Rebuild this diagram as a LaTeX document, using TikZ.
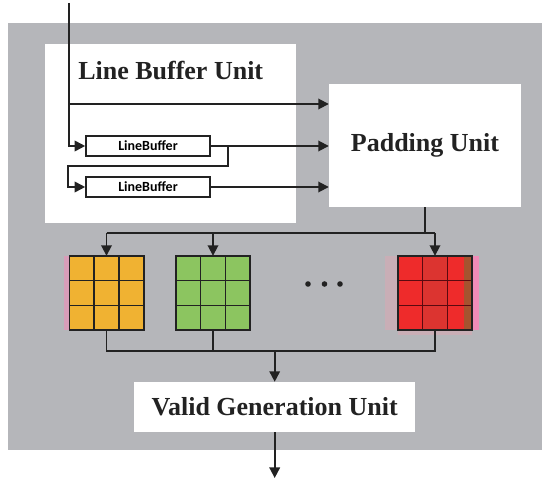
\documentclass[tikz,border=0pt]{standalone}
\usepackage{fontspec}
\setmainfont{Liberation Serif}
\newfontfamily\lbfont{Carlito}
\usetikzlibrary{arrows.meta,calc}
\definecolor{bggray}{HTML}{B5B6BA}
\definecolor{linec}{HTML}{222222}
\definecolor{orangec}{HTML}{F0B232}
\definecolor{greenc}{HTML}{8CC560}
\definecolor{redc}{HTML}{EE2B2B}
\definecolor{redmid}{HTML}{DC3430}
\definecolor{redbrown}{HTML}{A5532F}
\definecolor{pinkc}{HTML}{F08CB8}
\definecolor{pinkfaint}{HTML}{C9AEB6}
\definecolor{redgrid}{HTML}{5A0A10}
\tikzset{
  conn/.style={line width=1.8pt, draw=linec},
  arr/.style={conn, -{Triangle[length=10.5pt,width=10.5pt]}},
  whitebox/.style={fill=white, draw=none, inner sep=0pt},
  titletext/.style={font=\bfseries\fontsize{26}{30}\selectfont, text=linec},
  lbbox/.style={draw=linec, fill=white, line width=1.6pt, minimum width=124pt, minimum height=20pt, inner sep=0pt, font=\lbfont\bfseries\fontsize{14}{16}\selectfont},
  matbox/.style={minimum width=74pt, minimum height=74pt, inner sep=0pt, draw=none},
  gridl/.style={line width=1.6pt, draw=linec},
  dotn/.style={circle, fill=linec, inner sep=0pt, minimum size=5.6pt}
}
\begin{document}
\begin{tikzpicture}[x=1pt,y=-1pt]
\useasboundingbox (0,0) rectangle (550,489);
\fill[bggray] (7.7,23) rectangle (542,450);
% boxes
\node[whitebox, minimum width=251pt, minimum height=179pt] (lbu) at (170,133.5) {};
\node[titletext] (lbut) at (170.7,71) {Line Buffer Unit};
\node[whitebox, titletext, minimum width=192pt, minimum height=123pt] (pad) at (425,145.5) {Padding Unit};
\node[lbbox] (lb1) at (148,146) {LineBuffer};
\node[lbbox] (lb2) at (148,187) {LineBuffer};
\node[whitebox, titletext, minimum width=280.7pt, minimum height=50pt] (valid) at (274.7,407) {Valid Generation Unit};
% line buffer connections
\coordinate (in) at (69,3);
\coordinate (br) at (69,104);
\coordinate (sp) at (228,146);
\coordinate (spd) at (228,166);
\coordinate (spl) at (67.7,166);
\draw[arr] (in) |- (lb1.west);
\draw[arr] (br) -- (br -| pad.west);
\draw[arr] (lb1.east) -- (lb1.east -| pad.west);
\draw[arr] (sp) -- (spd) -- (spl) |- (lb2.west);
\draw[arr] (lb2.east) -- (lb2.east -| pad.west);
% matrices
\fill[pinkc!60!bggray] (64,256) rectangle (69.5,330);
\fill[pinkfaint] (385,256) rectangle (398,330);
\fill[pinkfaint] (398,330) rectangle (472,335);
\fill[pinkc] (472,256) rectangle (479,330);
\node[matbox, fill=orangec] (m1) at (106.5,293) {};
\node[matbox, fill=greenc] (m2) at (213,293) {};
\node[matbox, fill=redc] (m3) at (435,293) {};
\fill[redmid] ($(m3.north west)!1/3!(m3.north east)$) rectangle ($(m3.south west)!2/3!(m3.south east)$);
\fill[redbrown] ($(m3.north east)+(-8,0)$) rectangle (m3.south east);
\foreach \m/\c in {m1/linec, m2/linec, m3/redgrid} {
  \draw[gridl, draw=\c] ($(\m.north west)!1/3!(\m.north east)$) -- ($(\m.south west)!1/3!(\m.south east)$);
  \draw[gridl, draw=\c] ($(\m.north west)!2/3!(\m.north east)$) -- ($(\m.south west)!2/3!(\m.south east)$);
  \draw[gridl, draw=\c] ($(\m.north west)!1/3!(\m.south west)$) -- ($(\m.north east)!1/3!(\m.south east)$);
  \draw[gridl, draw=\c] ($(\m.north west)!2/3!(\m.south west)$) -- ($(\m.north east)!2/3!(\m.south east)$);
  \draw[gridl, draw=linec] (\m.north west) rectangle (\m.south east);
}
\node[dotn] (d1) at (308,284) {};
\node[dotn] (d2) at (324.5,284) {};
\node[dotn] (d3) at (340,284) {};
% top bus
\coordinate (b1) at (0,233);
\draw[conn] (pad.south) -- (pad.south |- b1);
\draw[conn] (m1.north |- b1) -- (m3.north |- b1);
\draw[arr] (m1.north |- b1) -- (m1.north);
\draw[arr] (m2.north |- b1) -- (m2.north);
\draw[arr] (m3.north |- b1) -- (m3.north);
% bottom bus
\coordinate (b2) at (0,351);
\draw[conn] (m1.south) -- (m1.south |- b2) -- (m3.south |- b2) -- (m3.south);
\draw[conn] (m2.south) -- (m2.south |- b2);
\draw[arr] (valid.north |- b2) -- (valid.north);
\coordinate (out) at (274.7,478);
\draw[arr] (valid.south) -- (out);
\end{tikzpicture}
\end{document}
